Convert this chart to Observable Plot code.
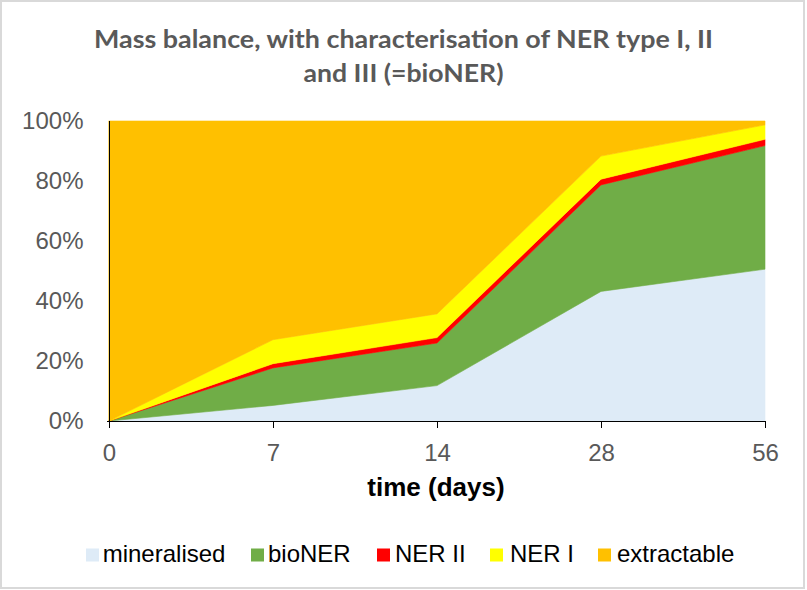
<!DOCTYPE html>
<html><head><meta charset="utf-8">
<script src="https://cdn.jsdelivr.net/npm/d3@7"></script>
<script src="https://cdn.jsdelivr.net/npm/@observablehq/plot@0.6"></script>
<style>
body{margin:0;background:#fff;}
#chart{position:relative;width:807px;height:590px;overflow:hidden;background:#fff;}
#chart svg{position:absolute;left:0;top:0;}
#border{position:absolute;left:0;top:0;width:805px;height:589px;border:2px solid #d9d9d9;box-sizing:border-box;pointer-events:none;}
</style></head>
<body>
<div id="chart"><div id="border"></div></div>
<script>
// ---- data (percent of applied radioactivity) ----
const days = ["0", "7", "14", "28", "56"];
const seriesNames = ["mineralised", "bioNER", "NER II", "NER I", "extractable"];
const seriesColors = ["#DEEBF7", "#70AD47", "#FF0000", "#FFFF00", "#FFC000"];
const mineralised = [0, 5.2, 11.8, 43.2, 50.6];
const bioNER      = [0, 12.5, 14.2, 35.5, 41.2];
const nerII       = [0, 1.4, 1.8, 1.9, 2.1];
const nerI        = [0, 8.0, 7.9, 7.7, 4.8];
const extractable = [100, 72.9, 64.3, 11.7, 1.3];
const yTicks = [0, 20, 40, 60, 80, 100];
const titleLines = ["Mass balance, with characterisation of NER type I, II", "and III (=bioNER)"];
const xLabel = "time (days)";

const seriesValues = [mineralised, bioNER, nerII, nerI, extractable];
const data = [];
seriesNames.forEach((name, i) => {
  days.forEach((d, j) => data.push({day: d, series: name, value: seriesValues[i][j]}));
});

const font = '"Liberation Sans", Arial, sans-serif';
const plot = Plot.plot({
  width: 807,
  height: 590,
  marginTop: 121,
  marginBottom: 169,
  marginLeft: 107,
  marginRight: 41,
  style: {fontFamily: font, fontSize: "24px", background: "transparent"},
  x: {type: "point", domain: days, padding: 0},
  y: {domain: [0, 100]},
  color: {domain: seriesNames, range: seriesColors},
  marks: [
    Plot.areaY(data, {x: "day", y: "value", fill: "series", order: seriesNames, curve: "linear",
      stroke: "series", strokeWidth: 0.6}),
    Plot.ruleX([days[0]], {stroke: "#000", strokeWidth: 1}),
    Plot.ruleY([0], {stroke: "#000", strokeWidth: 1}),
    Plot.axisY(yTicks, {tickSize: 0, tickPadding: 24, tickFormat: d => d + "%", fill: "#595959", fontSize: 24, label: null}),
    Plot.axisX(days, {tickSize: 7, tickPadding: 15, stroke: "#000", fill: "#595959", fontSize: 24, label: null})
  ]
});
document.getElementById("chart").prepend(plot);

const svg = d3.select(plot);
const color = plot.scale("color");

// title
const titleBase = [48.3, 82.3];
const titleLen = [619, 200];
titleLines.forEach((t, i) => {
  svg.append("text")
    .attr("x", 403.5).attr("y", titleBase[i])
    .attr("text-anchor", "middle")
    .attr("font-family", "Lato, 'Open Sans', sans-serif")
    .attr("font-weight", 700)
    .attr("font-size", 25)
    .attr("fill", "#595959")
    .attr("textLength", titleLen[i])
    .attr("lengthAdjust", "spacingAndGlyphs")
    .text(t);
});

// x axis title
svg.append("text")
  .attr("x", 436).attr("y", 496)
  .attr("text-anchor", "middle")
  .attr("font-family", font)
  .attr("font-weight", 700)
  .attr("font-size", 26)
  .attr("fill", "#000")
  .text(xLabel);

// legend
const swatchX = [86, 251, 377, 490, 598];
const textX = [102.7, 268, 395, 510, 617];
seriesNames.forEach((name, i) => {
  svg.append("rect")
    .attr("x", swatchX[i]).attr("y", 548.5)
    .attr("width", 13).attr("height", 13)
    .attr("fill", color.apply(name));
  svg.append("text")
    .attr("x", textX[i]).attr("y", 562.3)
    .attr("text-anchor", "start")
    .attr("font-family", font)
    .attr("font-size", 24)
    .attr("fill", "#000")
    .text(name);
});
</script>
</body></html>
